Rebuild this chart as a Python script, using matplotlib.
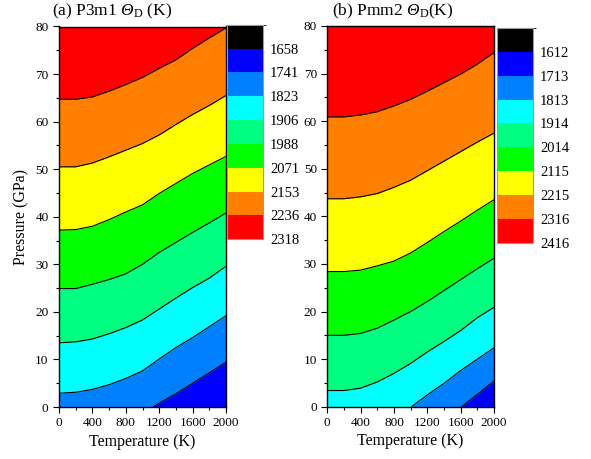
import numpy as np
import matplotlib
matplotlib.use("Agg")
import matplotlib.pyplot as plt
from matplotlib.colors import ListedColormap, BoundaryNorm
from matplotlib.cm import ScalarMappable
from matplotlib.ticker import MultipleLocator

plt.rcParams['font.family'] = ['Liberation Serif', 'DejaVu Serif']
plt.rcParams['mathtext.fontset'] = 'custom'
# Greek capitals are taken from the "rm" slot, so make it italic for Theta
plt.rcParams['mathtext.rm'] = 'Liberation Serif:italic'
plt.rcParams['mathtext.it'] = 'Liberation Serif:italic'
plt.rcParams['mathtext.sf'] = 'Liberation Serif'

# Temperature grid (K) at which the iso-Debye-temperature lines are sampled
temperature = [0, 200, 400, 600, 800, 1000, 1200, 1400, 1600, 1800, 2000]

# Band colours, lowest Theta_D band first
band_colors = ['#000000', '#0000ff', '#0080ff', '#00ffff', '#00ff80',
               '#00ff00', '#ffff00', '#ff8000', '#ff0000']

# ---- (a) P3m1 -------------------------------------------------------------
levels_a = [1576, 1658, 1741, 1823, 1906, 1988, 2071, 2153, 2236, 2318]
# pressure (GPa) of each iso-line, highest level first
iso_a = {
    2236: (temperature, [64.7, 64.7, 65.2, 66.4, 67.8, 69.3, 71.2, 73.0, 75.4, 77.6, 79.7]),
    2153: (temperature, [50.5, 50.5, 51.3, 52.6, 54.0, 55.4, 57.2, 59.4, 61.5, 63.4, 65.5]),
    2071: (temperature, [37.2, 37.3, 38.0, 39.4, 41.0, 42.5, 44.9, 47.0, 49.1, 50.9, 52.7]),
    1988: (temperature, [24.9, 24.9, 25.8, 26.8, 28.0, 30.0, 32.5, 34.6, 36.7, 38.7, 40.8]),
    1906: (temperature, [13.5, 13.7, 14.3, 15.4, 16.7, 18.3, 20.6, 22.9, 25.1, 27.1, 29.6]),
    1823: (temperature, [2.9, 3.1, 3.7, 4.7, 6.0, 7.6, 10.1, 12.5, 14.6, 16.9, 19.2]),
    1741: ([1129, 1200, 1400, 1600, 1800, 2000], [0.0, 0.8, 2.8, 5.0, 7.2, 9.45]),
}

# ---- (b) Pmm2 -------------------------------------------------------------
levels_b = [1512, 1612, 1713, 1813, 1914, 2014, 2115, 2215, 2316, 2416]
iso_b = {
    2316: (temperature, [60.9, 60.9, 61.3, 62.0, 63.2, 64.6, 66.3, 68.1, 69.9, 72.0, 74.4]),
    2215: (temperature, [43.7, 43.7, 44.1, 44.8, 46.1, 47.6, 49.6, 51.6, 53.6, 55.6, 57.5]),
    2115: (temperature, [28.4, 28.4, 28.7, 29.6, 30.6, 32.3, 34.5, 36.8, 39.0, 41.3, 43.5]),
    2014: (temperature, [15.0, 15.0, 15.4, 16.5, 18.2, 20.0, 22.1, 24.4, 26.7, 29.0, 31.2]),
    1914: (temperature, [3.4, 3.4, 3.9, 5.2, 7.0, 9.1, 11.5, 13.7, 16.0, 18.7, 20.9]),
    1813: ([1010, 1200, 1400, 1600, 1800, 2000], [0.0, 2.5, 4.9, 7.6, 10.0, 12.4]),
    1713: ([1610, 1800, 2000], [0.0, 2.6, 5.4]),
}

W, H = 591, 459
fig = plt.figure(figsize=(W / 100, H / 100), dpi=100)


def px(x0, y0, x1, y1):
    return [x0 / W, 1 - y1 / H, (x1 - x0) / W, (y1 - y0) / H]


ax_a = fig.add_axes(px(59, 26.5, 226, 407))
ax_b = fig.add_axes(px(327.3, 26, 494, 406.7))
cax_a = fig.add_axes(px(227.3, 24.7, 263, 239.3))
cax_b = fig.add_axes(px(497, 28, 533, 242.7))


def draw_panel(ax, levels, iso):
    # region above the highest iso-line takes the top band colour
    ax.set_facecolor(band_colors[-1])
    for lev, (t, p) in iso.items():
        idx = levels.index(lev)
        ax.fill_between(t, 0, p, color=band_colors[idx - 1], lw=0, zorder=1)
    for lev, (t, p) in iso.items():
        ax.plot(t, p, color='black', lw=0.8, zorder=2)
    ax.set_xlim(0, 2000)
    ax.set_ylim(0, 80)
    ax.xaxis.set_major_locator(MultipleLocator(400))
    ax.xaxis.set_minor_locator(MultipleLocator(200))
    ax.yaxis.set_major_locator(MultipleLocator(10))
    ax.yaxis.set_minor_locator(MultipleLocator(5))
    ax.tick_params(which='both', direction='out', top=False, right=False,
                   width=0.8, labelsize=9.5, colors='black')
    ax.tick_params(which='major', length=4.5, pad=3)
    ax.tick_params(which='minor', length=2.3)
    for s in ax.spines.values():
        s.set_linewidth(1.0)
    ax.set_xlabel('Temperature (K)', fontsize=11.5, labelpad=3)


def draw_bar(cax, levels):
    cmap = ListedColormap(band_colors)
    norm = BoundaryNorm(levels, cmap.N)
    cb = fig.colorbar(ScalarMappable(norm=norm, cmap=cmap), cax=cax,
                      ticks=levels[1:])
    cb.set_ticklabels([str(v) for v in levels[1:]])
    cax.invert_yaxis()
    cax.tick_params(length=0, pad=5, labelsize=10.5)
    cb.outline.set_edgecolor('#9a9a9a')
    cb.outline.set_linewidth(0.8)


draw_panel(ax_a, levels_a, iso_a)
draw_panel(ax_b, levels_b, iso_b)
draw_bar(cax_a, levels_a)
draw_bar(cax_b, levels_b)

ax_a.set_ylabel('Pressure (GPa)', fontsize=11.5, labelpad=4)

fig.text(52 / W, 1 - 15.5 / H, r'(a) P3m1 $\Theta_{\mathsf{D}}$ (K)',
         fontsize=12.5, va='baseline', ha='left')
fig.text(331.5 / W, 1 - 15.5 / H, r'(b) Pmm2 $\Theta_{\mathsf{D}}$(K)',
         fontsize=12.5, va='baseline', ha='left')

fig.savefig('out.png', dpi=100)
